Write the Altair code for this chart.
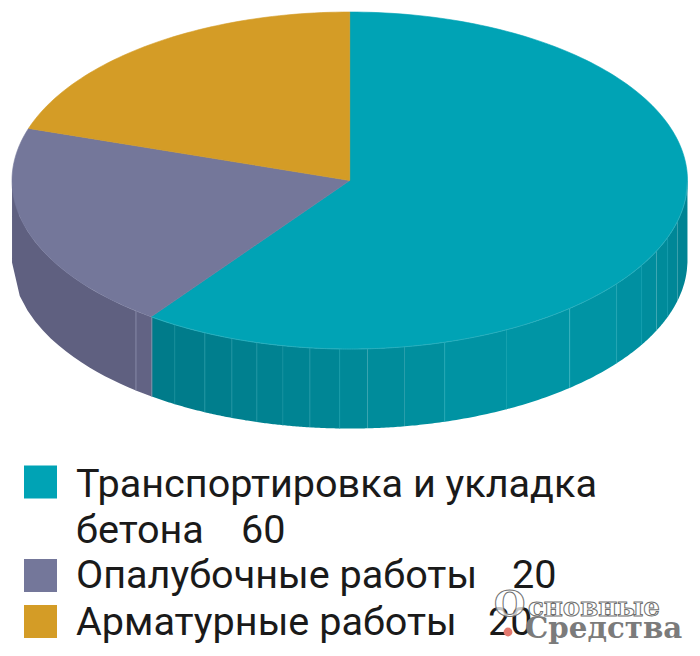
import math
import altair as alt
import pandas as pd

# --- values
names = ["Транспортировка и укладка", "Опалубочные работы", "Арматурные работы"]
shares = [60, 20, 20]
top_colors = ["#00a3b5", "#74779a", "#d49c26"]
legend_lines = ["Транспортировка и укладка", "бетона", "Опалубочные работы", "Арматурные работы"]
legend_baselines = [489, 535, 580, 627]
legend_numbers = ["60", "20", "20"]
legend_number_x = [233, 504, 480]
legend_number_y = [535, 580, 627]
legend_square_y = [474, 567.5, 613.5]

depth = 0.472
# wall facet edges as a fraction of the ellipse half-width
facet_edges = [-0.9999, -0.633, -0.586, -0.518, -0.429, -0.349, -0.275, -0.198, -0.118, -0.03,
               0.053, 0.163, 0.281, 0.464, 0.651, 0.79, 0.864, 0.908, 0.941, 0.97, 0.9999]
facet_colors = ["#5f6080", "#626384", "#007b8a", "#007c8b", "#007e8d", "#00808f", "#008291", "#008493",
                "#008695", "#008998", "#008c9b", "#008f9e", "#0093a3", "#0095a5", "#0094a4", "#0090a1",
                "#008d9d", "#008b9a", "#008797", "#008393"]
light_lines = {1: "#8486a6", 2: "#7f8ca8", 3: "#0e8997", 4: "#1a93a1", 5: "#1a93a1", 6: "#1a93a1",
               7: "#0e8e9c", 8: "#1f98a6", 9: "#169aa8", 12: "#1fa5b4", 13: "#14a0ae", 14: "#35b0bd",
               15: "#22a5b3", 16: "#0f9cac", 18: "#129aaa"}

X = alt.Scale(domain=[-1, 1], range=[4, 679.5], nice=False, zero=False)
Y = alt.Scale(domain=[-1, 1], range=[341, 4], nice=False, zero=False)
x_ = lambda f="x": alt.X(f"{f}:Q", scale=X, axis=None)
y_ = lambda f="y": alt.Y(f"{f}:Q", scale=Y, axis=None)


def lower(x):
    return -math.sqrt(max(0.0, 1 - x * x))


# walls
wall = []
for k, (a, b, c) in enumerate(zip(facet_edges, facet_edges[1:], facet_colors)):
    steps = 16
    for j in range(steps + 1):
        x = a + (b - a) * j / steps
        wall.append({"facet": k, "x": x, "y": lower(x) + 0.0, "y2": lower(x) - depth, "c": c})
wall_chart = alt.Chart(pd.DataFrame(wall)).mark_area(strokeWidth=0).encode(
    x=x_(), y=y_(), y2="y2:Q", detail="facet:N",
    fill=alt.Fill("c:N", scale=None),
)

rules = pd.DataFrame([
    {"x": facet_edges[k], "y": lower(facet_edges[k]), "y2": lower(facet_edges[k]) - depth, "c": c}
    for k, c in light_lines.items()
])
rule_chart = alt.Chart(rules).mark_rule(strokeWidth=1).encode(
    x=x_(), y=y_(), y2="y2:Q", stroke=alt.Stroke("c:N", scale=None))

# top wedges
layers = [wall_chart, rule_chart]
start = 0.0
total = sum(shares)
for name, s, col in zip(names, shares, top_colors):
    pts = [{"i": 0, "x": 0.0, "y": 0.0}]
    n = max(2, int(s * 3))
    for j in range(n + 1):
        t = (start + s * j / n) / total * 2 * math.pi
        pts.append({"i": j + 1, "x": math.sin(t), "y": math.cos(t)})
    pts.append({"i": n + 2, "x": 0.0, "y": 0.0})
    layers.append(
        alt.Chart(pd.DataFrame(pts)).mark_line(fill=col, stroke=col, strokeWidth=0.6, fillOpacity=1).encode(
            x=x_(), y=y_(), order="i:Q")
    )
    start += s

# light rim on the front edge
rim = pd.DataFrame([{"i": j, "x": -0.587 + j * 1.587 / 300, "y": lower(-0.587 + j * 1.587 / 300)} for j in range(301)])
layers.append(alt.Chart(rim).mark_line(stroke="#2eb0be", strokeWidth=0.8).encode(x=x_(), y=y_(), order="i:Q"))

# legend
leg_sq = pd.DataFrame({"y": legend_square_y, "c": top_colors})
layers.append(alt.Chart(leg_sq).mark_square(size=1089, opacity=1, strokeWidth=0).encode(
    x=alt.value(32.5), y=alt.Y("y:Q", scale=None), fill=alt.Fill("c:N", scale=None)))
leg_tx = pd.DataFrame({"t": legend_lines, "y": legend_baselines})
layers.append(alt.Chart(leg_tx).mark_text(
    font="Roboto", fontSize=39.6, align="left", baseline="alphabetic", color="#1a1a1a"
).encode(x=alt.value(68), y=alt.Y("y:Q", scale=None), text="t:N"))
leg_nm = pd.DataFrame({"t": legend_numbers, "x": legend_number_x, "y": legend_number_y})
layers.append(alt.Chart(leg_nm).mark_text(
    font="Roboto", fontSize=39.6, align="left", baseline="alphabetic", color="#1a1a1a"
).encode(x=alt.X("x:Q", scale=None), y=alt.Y("y:Q", scale=None), text="t:N"))

# watermark
wm = pd.DataFrame({"t": ["О", "сновные"], "x": [486, 520], "y": [608, 608], "s": [36, 26]})
layers.append(alt.Chart(wm).mark_text(
    font="DejaVu Serif", fontWeight="bold", align="left", baseline="alphabetic",
    fill="#ffffff", fillOpacity=0.75, stroke="#707070", strokeWidth=1
).encode(x=alt.X("x:Q", scale=None), y=alt.Y("y:Q", scale=None), text="t:N",
         size=alt.Size("s:Q", scale=None, legend=None)))
layers.append(alt.Chart(pd.DataFrame({"t": ["Средства"]})).mark_text(
    font="DejaVu Serif", fontWeight="bold", fontSize=29.3, align="left", baseline="alphabetic", color="#7b7b7b"
).encode(x=alt.value(517), y=alt.value(630), text="t:N"))
layers.append(alt.Chart(pd.DataFrame({"t": ["dot"]})).mark_circle(size=78, color="#e2786e", opacity=1).encode(
    x=alt.value(500), y=alt.value(624)))

chart = alt.layer(*layers).resolve_scale(x="independent", y="independent").properties(
    width=684, height=640, padding=0, autosize=alt.AutoSizeParams(type="none")
).configure_view(stroke=None)
chart.save("out.html", embed_options={"renderer": "svg", "actions": False})
